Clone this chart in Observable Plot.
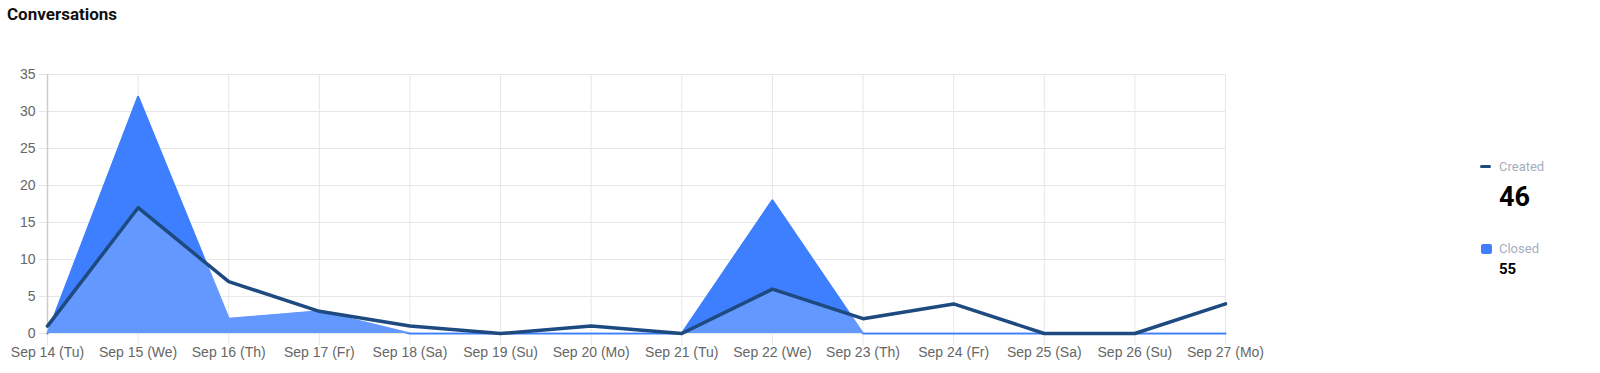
<!DOCTYPE html>
<html>
<head>
<meta charset="utf-8">
<script src="https://cdn.jsdelivr.net/npm/d3@7"></script>
<script src="https://cdn.jsdelivr.net/npm/@observablehq/plot@0.6"></script>
<style>
  html, body { margin: 0; padding: 0; background: #fff; }
  #wrap { position: relative; width: 1600px; height: 373px; overflow: hidden; }
  #chart { position: absolute; left: 0; top: 0; }
  .title { position: absolute; left: 7px; top: 6px; font: 700 17px/1 Roboto, sans-serif; color: #111; white-space: nowrap; }
  .leg { position: absolute; white-space: nowrap; font-family: Roboto, sans-serif; line-height: 1; }
  .lab { font-size: 13px; color: #a5aec0; }
  .num { font-weight: 700; color: #000; }
  .dash { position: absolute; width: 11px; height: 3px; border-radius: 1.5px; background: #1e4a80; }
  .sq { position: absolute; width: 11px; height: 10px; border-radius: 2px; background: #3d7fff; }
</style>
</head>
<body>
<div id="wrap">
  <div class="title">Conversations</div>
  <div id="chart"></div>
</div>
<script>
const dates = ["Sep 14 (Tu)", "Sep 15 (We)", "Sep 16 (Th)", "Sep 17 (Fr)", "Sep 18 (Sa)", "Sep 19 (Su)", "Sep 20 (Mo)", "Sep 21 (Tu)", "Sep 22 (We)", "Sep 23 (Th)", "Sep 24 (Fr)", "Sep 25 (Sa)", "Sep 26 (Su)", "Sep 27 (Mo)"];
const created = [1, 17, 7, 3, 1, 0, 1, 0, 6, 2, 4, 0, 0, 4];
const closed = [0, 32, 2, 3, 0, 0, 0, 0, 18, 0, 0, 0, 0, 0];
const yTicks = [0, 5, 10, 15, 20, 25, 30, 35];
const legendItems = [
  {name: "Created", total: d3.sum(created)},
  {name: "Closed", total: d3.sum(closed)}
];

const rows = dates.map((d, i) => ({date: d, created: created[i], closed: closed[i]}));

const plot = Plot.plot({
  width: 1600,
  height: 373,
  marginLeft: 47,
  marginRight: 375,
  marginTop: 74,
  marginBottom: 40,
  style: {fontFamily: "'Liberation Sans', Arial, sans-serif", fontSize: "14px", color: "#666", background: "transparent"},
  x: {type: "point", domain: dates, padding: 0, round: false},
  y: {domain: [0, 35]},
  marks: [
    Plot.gridY(yTicks, {stroke: "#e6e6e6", strokeOpacity: 1}),
    Plot.gridX(dates, {stroke: "#e6e6e6", strokeOpacity: 1}),
    Plot.axisY(yTicks, {tickSize: 8, tickPadding: 4, stroke: "#e6e6e6", strokeOpacity: 1, fill: "#666", label: null, fontSize: 14}),
    Plot.axisX(dates, {tickSize: 12, tickPadding: 2, stroke: "#e6e6e6", strokeOpacity: 1, fill: "#666", label: null, fontSize: 14}),
    Plot.ruleX([dates[0]], {stroke: "#cccccc", strokeWidth: 1.5}),
    Plot.areaY(rows, {x: "date", y: "closed", fill: "#3d7fff"}),
    Plot.lineY(rows, {x: "date", y: "closed", stroke: "#3d7fff", strokeWidth: 2}),
    Plot.areaY(rows, {x: "date", y: "created", fill: "#ffffff", fillOpacity: 0.2}),
    Plot.lineY(rows, {x: "date", y: "created", stroke: "#1e4a80", strokeWidth: 3.5, strokeLinejoin: "round"})
  ]
});
document.getElementById("chart").appendChild(plot);

// legend
const wrap = document.getElementById("wrap");
function add(cls, html, style) {
  const el = document.createElement("div");
  el.className = cls;
  if (html !== null) el.textContent = html;
  Object.assign(el.style, style);
  wrap.appendChild(el);
}
add("dash", null, {left: "1480px", top: "165px"});
add("leg lab", legendItems[0].name, {left: "1499px", top: "159.5px"});
add("leg num", String(legendItems[0].total), {left: "1499px", top: "184px", fontSize: "27px"});
add("sq", null, {left: "1481px", top: "244px"});
add("leg lab", legendItems[1].name, {left: "1499px", top: "241.5px"});
add("leg num", String(legendItems[1].total), {left: "1499px", top: "261.5px", fontSize: "15px"});
</script>
</body>
</html>
